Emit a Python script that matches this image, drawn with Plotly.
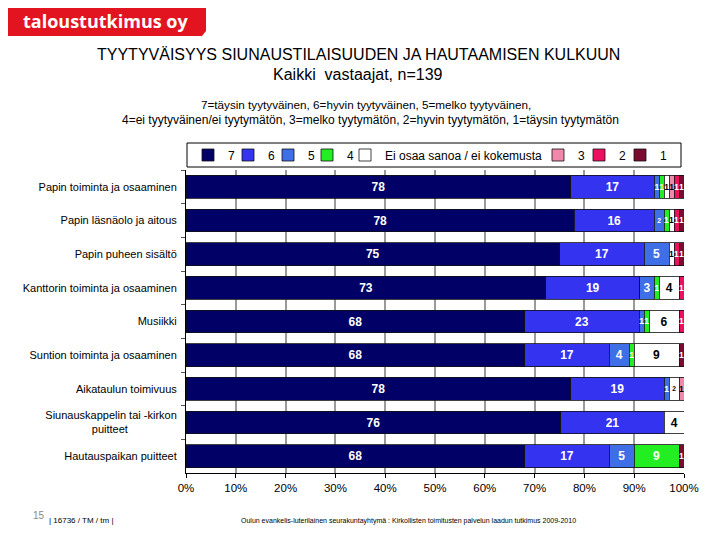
import plotly.graph_objects as go

# ---------------- data ----------------
categories = [
    "Papin toiminta ja osaaminen",
    "Papin läsnäolo ja aitous",
    "Papin puheen sisältö",
    "Kanttorin toiminta ja osaaminen",
    "Musiikki",
    "Suntion toiminta ja osaaminen",
    "Aikataulun toimivuus",
    "Siunauskappelin tai -kirkon<br>puitteet" + "\u00a0" * 16,
    "Hautauspaikan puitteet",
]
series_names = ["7", "6", "5", "4", "Ei osaa sanoa / ei kokemusta", "3", "2", "1"]
v7 = [78, 78, 75, 73, 68, 68, 78, 76, 68]
v6 = [17, 16, 17, 19, 23, 17, 19, 21, 17]
v5 = [1, 2, 5, 3, 1, 4, 1, 0, 5]
v4 = [1, 1, 0, 1, 1, 1, 0, 0, 9]
v_eos = [1, 1, 1, 4, 6, 9, 2, 4, 0]
v3 = [1, 0, 0, 0, 0, 0, 1, 0, 0]
v2 = [1, 1, 1, 1, 1, 0, 0, 0, 0]
v1 = [1, 1, 1, 0, 0, 1, 0, 0, 1]
x_ticks = [0, 10, 20, 30, 40, 50, 60, 70, 80, 90, 100]

series_values = [v7, v6, v5, v4, v_eos, v3, v2, v1]
colors = ["#000066", "#3333f0", "#3f6fe6", "#22ee22", "#ffffff", "#f088aa", "#ee1060", "#7a0a30"]
text_colors = ["white", "white", "white", "white", "black", "black", "white", "white"]
# legend symbol left edges (screen pixels)
legend_symbol_x = [203, 243, 283, 322, 360, 553, 594, 635]

# ---------------- geometry helpers ----------------
# the page body adds an 8px margin, so screen pixel X sits at figure pixel X-8
W_FIG, H_FIG = 720, 540
OFF = 8
PLOT_L, PLOT_R, PLOT_T, PLOT_B = 186, 684, 170, 473


def px(x):
    return (x - OFF) / W_FIG


def py(y):
    return 1 - (y - OFF) / H_FIG


FONT = "Liberation Sans, Arial, sans-serif"

fig = go.Figure()
for i, (name, vals) in enumerate(zip(series_names, series_values)):
    lg = "legend" if i == 0 else f"legend{i + 1}"
    fig.add_trace(go.Bar(
        y=categories, x=vals, name=name, orientation="h",
        marker=dict(color=colors[i], line=dict(color="#111111", width=0.8)),
        text=[str(v) if v else "" for v in vals],
        textposition="inside", insidetextanchor="middle",
        textfont=dict(family=FONT, size=12, color=text_colors[i], weight="bold"),
        legend=lg, hoverinfo="skip",
    ))

layout_legends = {}
for i in range(len(series_names)):
    key = "legend" if i == 0 else f"legend{i + 1}"
    layout_legends[key] = dict(
        x=px(legend_symbol_x[i] - 15), xanchor="left",
        y=py(155), yanchor="middle",
        orientation="h", bgcolor="rgba(0,0,0,0)",
        font=dict(family=FONT, size=12, color="black"),
        itemwidth=30,
    )

shapes = [
    # legend box
    dict(type="rect", xref="paper", yref="paper",
         x0=px(187), x1=px(681), y0=py(167), y1=py(143),
         line=dict(color="black", width=1), fillcolor="rgba(0,0,0,0)", layer="above"),
    # logo
    dict(type="path", xref="paper", yref="paper",
         path=(f"M {px(0)},{py(0)} L {px(206)},{py(0)} L {px(206)},{py(31)} "
               f"L {px(202)},{py(36)} L {px(0)},{py(36)} Z"),
         fillcolor="#e2141f", line=dict(width=0), layer="above"),
]


def ann(text, x, y, size, color="black", family=FONT, xanchor="center", weight="normal"):
    return dict(text=text, x=px(x), y=py(y), xref="paper", yref="paper", showarrow=False,
                xanchor=xanchor, yanchor="middle",
                font=dict(family=family, size=size, color=color, weight=weight))


annotations = [
    ann("taloustutkimus oy", 106, 21, 18, "white", "Open Sans, sans-serif", weight="bold"),
    ann("TYYTYVÄISYYS SIUNAUSTILAISUUDEN JA HAUTAAMISEN KULKUUN", 358, 55, 16),
    ann("Kaikki  vastaajat, n=139", 358, 74, 16),
    ann("7=täysin tyytyväinen, 6=hyvin tyytyväinen, 5=melko tyytyväinen,", 366, 104, 11.7),
    ann("4=ei tyytyväinen/ei tyytymätön, 3=melko tyytymätön, 2=hyvin tyytymätön, 1=täysin tyytymätön",
        370, 120, 12),
    ann("15", 31, 515, 10, "#888888", xanchor="left"),
    ann("| 16736 / TM / tm |", 47, 520, 8, xanchor="left"),
    ann("Oulun evankelis-luterilainen seurakuntayhtymä : Kirkollisten toimitusten palvelun laadun tutkimus 2009-2010",
        408, 521, 7),
]

fig.update_layout(
    width=W_FIG, height=H_FIG,
    margin=dict(l=0, r=0, t=0, b=0, autoexpand=False),
    barmode="stack", barnorm="percent", bargap=0.32,
    plot_bgcolor="white", paper_bgcolor="white",
    showlegend=True,
    shapes=shapes, annotations=annotations,
    font=dict(family=FONT, size=11, color="black"),
    xaxis=dict(domain=[px(PLOT_L), px(PLOT_R)],
               range=[0, 100], tickvals=x_ticks, ticktext=[f"{t}%" for t in x_ticks],
               showgrid=True, gridcolor="#9a9a9a", gridwidth=2,
               showline=True, linecolor="black", linewidth=1,
               ticks="outside", ticklen=4, tickcolor="black",
               tickfont=dict(family=FONT, size=11.5, color="black"), zeroline=False),
    yaxis=dict(domain=[py(PLOT_B), py(PLOT_T)],
               autorange="reversed", showline=True, linecolor="black", linewidth=1,
               ticks="outside", tickson="boundaries", ticklen=4, tickcolor="#555555",
               ticklabelstandoff=6,
               tickfont=dict(family=FONT, size=11, color="black"), showgrid=False),
    **layout_legends,
)

fig.write_html("out.html")
